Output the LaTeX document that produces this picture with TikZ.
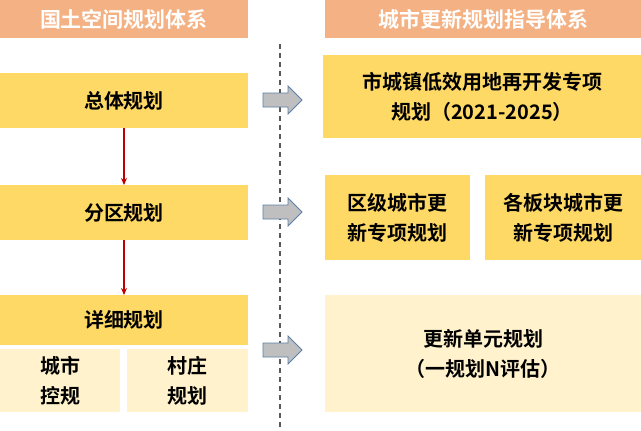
\documentclass[tikz,border=0pt]{standalone}
\usepackage{fontspec}
\setmainfont{Noto Sans CJK SC}[BoldFont={* Bold}]
\usetikzlibrary{arrows.meta}
\definecolor{hdr}{HTML}{F4B183}
\definecolor{gold}{HTML}{FFD966}
\definecolor{cream}{HTML}{FFF2CC}
\definecolor{arrfill}{HTML}{BFBFBF}
\definecolor{arrline}{HTML}{5B7FA6}
\begin{document}
\begin{tikzpicture}[x=1pt,y=-1pt,
 box/.style={fill=#1,draw=none,font=\bfseries\fontsize{20}{30}\selectfont,align=center,inner sep=0},
 hdrtxt/.style={font=\bfseries\fontsize{21}{24}\selectfont,text=white},
 flow/.style={draw=red!75!black,line width=1.2pt,-{Stealth[length=7pt,width=6pt]}},
 blk/.style={fill=arrfill,draw=arrline,line width=0.8pt,line join=miter}]
\useasboundingbox (0,0) rectangle (641,431);
\fill[hdr] (0,0) rectangle (248,38);
\node[hdrtxt] (h1) at (124,19) {国土空间规划体系};
\fill[hdr] (325,0) rectangle (641,38);
\node[hdrtxt] (h2) at (483,19) {城市更新规划指导体系};
\draw[gray!70!black,line width=1.5pt,dash pattern=on 5pt off 4pt] (280,44) -- (280,431);
\fill[gold] (0,73) rectangle (248,128); \node[box=gold] (a) at (124,100.5) {总体规划};
\fill[gold] (0,185) rectangle (248,240); \node[box=gold] (b) at (124,212.5) {分区规划};
\fill[gold] (0,295) rectangle (248,345); \node[box=gold] (c) at (124,320) {详细规划};
\fill[cream] (0,349) rectangle (120,412); \node[box=cream] (c1) at (60,380.5) {城市\\控规};
\fill[cream] (127,349) rectangle (248,412); \node[box=cream] (c2) at (187.5,380.5) {村庄\\规划};
\draw[flow] (a.center |- 0,128) -- (a.center |- 0,185);
\draw[flow] (b.center |- 0,240) -- (b.center |- 0,295);
\fill[gold] (323,55) rectangle (641,138); \node[box=gold] (r1) at (482,96.5) {市城镇低效用地再开发专项\\规划（2021-2025）};
\fill[gold] (325,175) rectangle (470,260); \node[box=gold] (r2) at (397.5,217.5) {区级城市更\\新专项规划};
\fill[gold] (485,175) rectangle (641,260); \node[box=gold] (r3) at (563,217.5) {各板块城市更\\新专项规划};
\fill[cream] (325,295) rectangle (641,412); \node[box=cream] (r4) at (483,353.5) {更新单元规划\\（一规划N评估）};
\foreach \yy in {100,212,350}{
 \draw[blk] (263,\yy-7) -- (288,\yy-7) -- (288,\yy-14) -- (302,\yy) -- (288,\yy+14) -- (288,\yy+7) -- (263,\yy+7) -- cycle;}
\end{tikzpicture}
\end{document}
